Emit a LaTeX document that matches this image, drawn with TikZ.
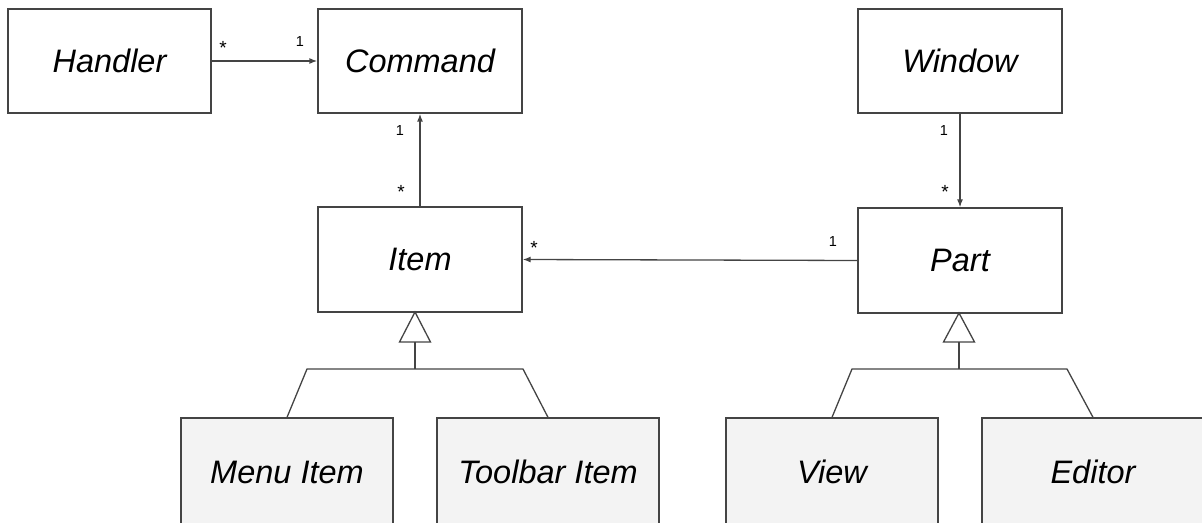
\documentclass[tikz,border=0pt]{standalone}
\usepackage{fontspec}
\setmainfont{Liberation Sans}
\usetikzlibrary{arrows.meta}
\definecolor{edge}{HTML}{444444}
\definecolor{subfill}{HTML}{F3F3F3}
\tikzset{
  cls/.style={draw=edge, line width=1.3bp, fill=white, inner sep=0pt,
    minimum width=204bp, minimum height=104bp,
    font=\fontsize{32.5bp}{39bp}\selectfont\itshape},
  subcls/.style={cls, fill=subfill, minimum height=108bp},
  assoc/.style={draw=edge, line width=1.3bp,
    -{Latex[length=8bp,width=6bp]}},
  gen/.style={draw=edge, line width=1.3bp},
  mult/.style={font=\fontsize{14.5bp}{17bp}\selectfont, text=black, inner sep=0pt},
  many/.style={font=\fontsize{19bp}{20bp}\selectfont, text=black, inner sep=0pt}
}
\begin{document}
\begin{tikzpicture}[x=1bp,y=-1bp]
\useasboundingbox (0,0) rectangle (1202,523);

% classes
\node[cls, minimum width=203bp] (handler) at (109.5,61) {Handler};
\node[cls] (command) at (420,61) {Command};
\node[cls] (window) at (960,61) {Window};
\node[cls, minimum height=105bp] (item) at (420,259.5) {Item};
\node[cls, minimum height=105bp] (part) at (960,260.5) {Part};

% subclasses (cut by the lower edge)
\begin{scope}
\clip (0,0) rectangle (1202,523);
\node[subcls, minimum width=212bp] (menuitem) at (287,472) {Menu Item};
\node[subcls, minimum width=222bp] (toolbaritem) at (548,472) {Toolbar Item};
\node[subcls, minimum width=212bp] (view) at (832,472) {View};
\node[subcls, minimum width=222bp] (editor) at (1093,472) {Editor};
\end{scope}

% associations
\draw[assoc] (handler.east) -- (command.west);
\draw[assoc] (item.north) -- (command.south);
\draw[assoc] (window.south) -- (part.north);
\draw[assoc] (part.west) -- (item.east);

% multiplicities
\node[many] (m1) at (223,48) {*};
\node[mult] (m2) at (300,42) {1};
\node[mult] (m3) at (400,131) {1};
\node[many] (m4) at (401,192) {*};
\node[mult] (m5) at (944,131) {1};
\node[many] (m6) at (945,192) {*};
\node[many] (m7) at (534,248) {*};
\node[mult] (m8) at (833,242) {1};

% generalization of Item
\coordinate (ia) at (415,312);
\coordinate (ib) at (415,342);
\coordinate (ic) at (415,369);
\coordinate (il) at (307,369);
\coordinate (ir) at (523,369);
\draw[gen, fill=white, line join=miter] (ia) -- (399.5,342) -- (430.5,342) -- cycle;
\draw[gen] (ib) -- (ic);
\draw[gen] (menuitem.north) -- (il) -- (ir) -- (toolbaritem.north);

% generalization of Part
\coordinate (pa) at (959,313);
\coordinate (pb) at (959,342);
\coordinate (pc) at (959,369);
\coordinate (pl) at (852,369);
\coordinate (pr) at (1067,369);
\draw[gen, fill=white, line join=miter] (pa) -- (943.5,342) -- (974.5,342) -- cycle;
\draw[gen] (pb) -- (pc);
\draw[gen] (view.north) -- (pl) -- (pr) -- (editor.north);
\end{tikzpicture}
\end{document}
